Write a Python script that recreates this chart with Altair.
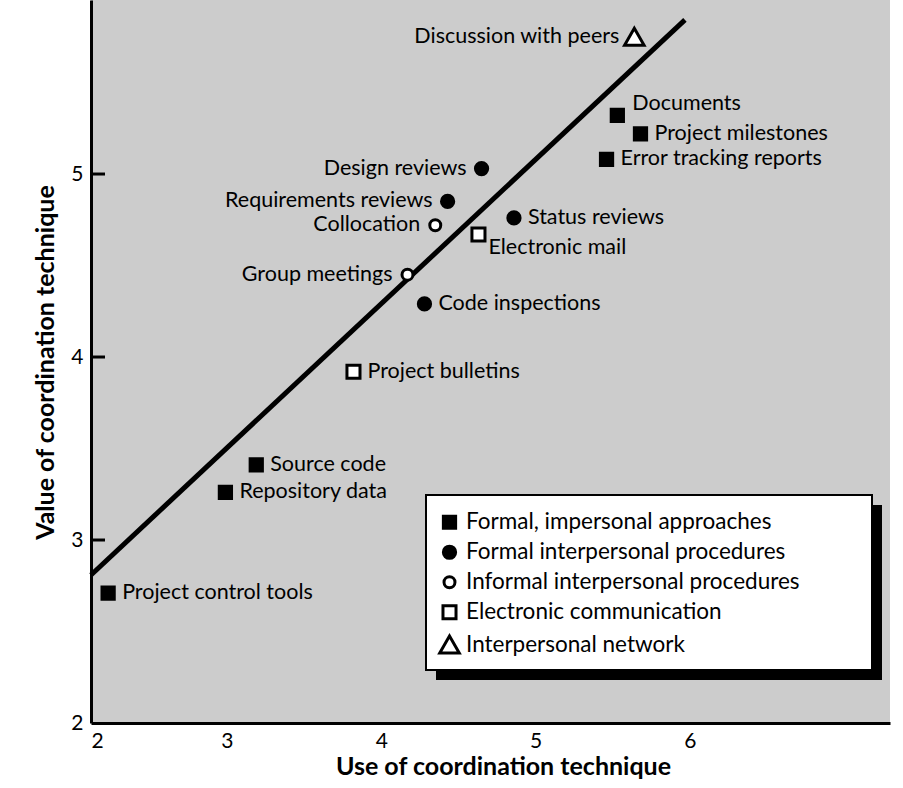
import altair as alt
import pandas as pd

# ---- data ----
names = ["Discussion with peers", "Documents", "Project milestones", "Error tracking reports",
         "Design reviews", "Requirements reviews", "Collocation", "Status reviews",
         "Electronic mail", "Group meetings", "Code inspections", "Project bulletins",
         "Source code", "Repository data", "Project control tools"]
use = [5.64, 5.53, 5.68, 5.46, 4.65, 4.43, 4.35, 4.86, 4.63, 4.17, 4.28, 3.82, 3.19, 2.99, 2.23]
value = [5.75, 5.32, 5.22, 5.08, 5.03, 4.85, 4.72, 4.76, 4.67, 4.45, 4.29, 3.92, 3.41, 3.26, 2.71]
categories = ["Interpersonal network", "Formal, impersonal approaches", "Formal, impersonal approaches",
              "Formal, impersonal approaches", "Formal interpersonal procedures",
              "Formal interpersonal procedures", "Informal interpersonal procedures",
              "Formal interpersonal procedures", "Electronic communication",
              "Informal interpersonal procedures", "Formal interpersonal procedures",
              "Electronic communication", "Formal, impersonal approaches",
              "Formal, impersonal approaches", "Formal, impersonal approaches"]
label_side = ["left", "upright", "right", "right", "left", "left", "left", "right",
              "downright", "left", "right", "right", "right", "right", "right"]

legend_order = ["Formal, impersonal approaches", "Formal interpersonal procedures",
                "Informal interpersonal procedures", "Electronic communication",
                "Interpersonal network"]
legend_shapes = ["square", "circle", "circle", "square", "triangle-up"]
legend_fills = ["black", "black", "white", "white", "white"]
legend_strokes = ["black", "black", "black", "black", "black"]
legend_sizes = [150, 150, 120, 170, 380]

fit_use = [2.119, 5.968]
fit_value = [2.809, 5.842]

x_ticks = [2.119, 3, 4, 5, 6]
y_ticks = [2, 3, 4, 5]
y_tick_marks = [3, 4, 5]

X_DOMAIN = [2.119, 7.297]
Y_DOMAIN = [2, 5.951]
FONT = "Lato"

df = pd.DataFrame({"name": names, "use": use, "value": value,
                   "category": categories, "side": label_side})
fit_df = pd.DataFrame({"use": fit_use, "value": fit_value})
ticks_df = pd.DataFrame({"value": y_tick_marks})
box_df = pd.DataFrame({"k": [0]})

xs = alt.Scale(domain=X_DOMAIN, nice=False, zero=False)
ys = alt.Scale(domain=Y_DOMAIN, nice=False, zero=False)

x_enc = alt.X("use:Q", scale=xs, axis=alt.Axis(
    values=x_ticks, labelExpr="datum.value < 2.5 ? '2' : format(datum.value, 'd')",
    title="Use of coordination technique", ticks=False, grid=False,
    labelPadding=7, titleX=412, titleY=31, titleBaseline="top"))
y_enc = alt.Y("value:Q", scale=ys, axis=alt.Axis(
    values=y_ticks, labelExpr="format(datum.value, 'd')",
    title="Value of coordination technique", ticks=False, grid=False,
    labelPadding=8, titleX=-38, titleY=362, titleBaseline="alphabetic"))

fit = alt.Chart(fit_df).mark_line(color="black", strokeWidth=5).encode(x=x_enc, y=y_enc)

ytick_rules = alt.Chart(ticks_df).mark_rule(color="black", strokeWidth=3).encode(
    x=alt.value(0), x2=alt.value(14), y=alt.Y("value:Q", scale=ys))

legend = alt.Legend(title=None, labelLimit=500, symbolStrokeColor="black",
                    symbolStrokeWidth=3, symbolOpacity=1)

points = alt.Chart(df).mark_point(filled=False, strokeWidth=3, opacity=1).encode(
    x=alt.X("use:Q", scale=xs),
    y=alt.Y("value:Q", scale=ys),
    shape=alt.Shape("category:N", scale=alt.Scale(domain=legend_order, range=legend_shapes), legend=legend),
    fill=alt.Fill("category:N", scale=alt.Scale(domain=legend_order, range=legend_fills), legend=legend),
    stroke=alt.Stroke("category:N", scale=alt.Scale(domain=legend_order, range=legend_strokes), legend=legend),
    size=alt.Size("category:N", scale=alt.Scale(type="ordinal", domain=legend_order, range=legend_sizes),
                  legend=legend),
)

def labels(side, align, dx, dy=0):
    return alt.Chart(df).transform_filter(alt.datum.side == side).mark_text(
        font=FONT, fontSize=21.5, align=align, baseline="middle", dx=dx, dy=dy, color="black"
    ).encode(x=alt.X("use:Q", scale=xs), y=alt.Y("value:Q", scale=ys), text="name:N")

shadow = alt.Chart(box_df).mark_rect(color="black").encode(
    x=alt.value(345), x2=alt.value(791), y=alt.value(505), y2=alt.value(680))
box = alt.Chart(box_df).mark_rect(fill="white", stroke="black", strokeWidth=2).encode(
    x=alt.value(335), x2=alt.value(781), y=alt.value(495), y2=alt.value(670))

chart = alt.layer(
    fit, ytick_rules,
    labels("right", "left", 14), labels("left", "right", -15),
    labels("upright", "left", 15, -11), labels("downright", "left", 10, 14),
    shadow, box, points,
).properties(
    width=799, height=723,
    autosize=alt.AutoSizeParams(type="none"),
    padding={"left": 91, "top": 0, "right": 13, "bottom": 65},
    background="white",
).configure_view(
    fill="#cccccc", stroke=None
).configure_axis(
    domainColor="black", domainWidth=3,
    labelFont=FONT, labelFontSize=21, labelColor="black",
    titleFont=FONT, titleFontSize=25, titleFontWeight="bold", titleColor="black",
).configure_legend(
    orient="none", legendX=347, legendY=511,
    labelFont=FONT, labelFontSize=22.5, labelColor="black", labelOffset=5,
    rowPadding=5, padding=0,
)

chart.save("out.html", embed_options={"renderer": "svg", "actions": False})
